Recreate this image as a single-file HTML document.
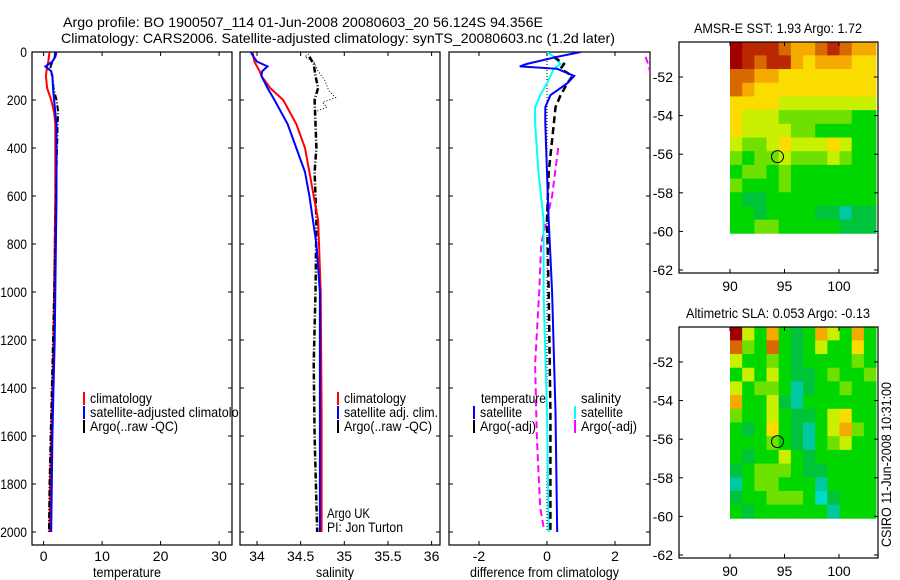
<!DOCTYPE html>
<html><head><meta charset="utf-8">
<style>
html,body{margin:0;padding:0;background:#fff;}
svg{display:block;font-family:"Liberation Sans",sans-serif;}
text{font-size:14px;fill:#000;}
</style></head>
<body>
<svg id="chart" width="900" height="580" viewBox="0 0 900 580">
<text x="63" y="27" textLength="480" lengthAdjust="spacingAndGlyphs">Argo profile: BO 1900507_114 01-Jun-2008 20080603_20 56.124S 94.356E</text>
<text x="61" y="43" textLength="554" lengthAdjust="spacingAndGlyphs">Climatology: CARS2006. Satellite-adjusted climatology: synTS_20080603.nc (1.2d later)</text>
<g id="g"></g>
</svg>
<script>
// ---------- data ----------
const depthTicks=[0,200,400,600,800,1000,1200,1400,1600,1800,2000];
const tempTicks=[0,10,20,30];
const salTicks=[34,34.5,35,35.5,36];
const diffTicks=[-2,0,2];
const depthsT=[0,20,40,60,80,100,150,200,250,300,400,500,600,800,1000,1200,1400,1600,1800,2000];
const tempClim=[1.0,0.9,0.8,0.6,0.5,0.4,0.6,1.3,1.8,2.0,2.0,2.0,2.0,1.9,1.8,1.7,1.5,1.3,1.1,1.0];
const tempSat=[2.2,2.0,1.5,0.3,1.3,1.5,1.6,1.8,2.0,2.2,2.2,2.2,2.2,2.1,2.0,1.9,1.7,1.5,1.4,1.3];
const tempArgo=[2.0,1.9,1.5,1.2,1.2,1.5,1.7,2.2,2.5,2.4,2.3,2.2,2.1,2.0,1.8,1.6,1.4,1.2,1.0,0.9];
const depthsS=[0,20,40,60,80,100,150,200,300,400,500,600,700,800,1000,1500,2000];
const salClim=[33.95,33.96,33.97,34.0,34.03,34.05,34.15,34.3,34.45,34.55,34.6,34.65,34.7,34.71,34.73,34.74,34.74];
const salSat=[33.93,33.96,34.0,34.12,34.06,34.05,34.12,34.2,34.35,34.45,34.55,34.6,34.64,34.68,34.72,34.72,34.72];
const depthsA=[20,50,100,150,200,300,400,500,700,1000,1300,1600,2000];
const salArgo=[34.6,34.65,34.67,34.7,34.66,34.67,34.68,34.66,34.68,34.67,34.65,34.66,34.69];
const depthsRaw=[0,20,40,80,120,160,190,210,230,250];
const salRaw=[34.62,34.55,34.65,34.7,34.78,34.82,34.9,34.75,34.8,34.66];
const depthsD=[0,20,50,60,70,100,130,180,230,300,500,700,1000,1500,2000];
const diffTsat=[1.0,0.3,-0.6,-0.8,0.3,0.8,0.6,0.1,-0.05,-0.05,0.0,0.05,0.15,0.25,0.3];
const diffTargo=[null,0.2,0.5,0.45,0.4,0.75,0.6,0.4,0.25,0.2,0.05,0.0,0.05,0.1,0.1];
const diffSsat=[0.0,0.2,0.4,0.3,0.2,0.1,0.0,-0.2,-0.35,-0.35,-0.25,-0.1,-0.1,0.0,0.05];
const depthsM=[20,60,100,250,400,600,800,1000,1300,1600,1900,1980];
const diffSargo=[2.9,3.0,3.05,null,0.33,0.15,-0.17,-0.23,-0.35,-0.3,-0.2,-0.1];
const sstGrid=[
[10,9,9,9,8,7,7,8,9,8,7,7],[10,9,8,9,9,7,6,7,7,7,6,6],[8,8,7,7,6,6,6,6,6,6,6,6],
[8,7,6,6,6,6,6,6,6,6,6,6],[6,6,6,6,5,5,5,5,5,5,5,5],[6,5,5,5,4,4,4,4,4,4,3,3],
[6,5,5,5,5,4,4,3,3,3,3,3],[5,4,4,5,6,5,5,5,6,5,3,3],[4,3,4,4,5,4,4,4,5,4,3,3],
[3,4,4,3,4,3,3,3,3,3,3,3],[4,3,3,3,4,3,3,3,3,3,3,3],[3,2,2,3,3,3,3,3,3,3,3,3],
[3,3,2,3,3,3,3,2,2,1,2,2],[3,3,4,4,3,3,3,3,3,2,2,2]];
const slaGrid=[
[10,5,3,7,3,2,3,7,5,3,7,3],[8,4,3,8,3,2,3,5,3,3,6,3],[5,3,3,4,3,2,3,3,3,3,4,3],
[3,5,3,5,3,2,2,3,4,3,3,4],[5,3,4,4,3,1,2,3,3,4,3,3],[7,3,3,5,2,1,3,3,3,3,3,3],
[4,3,3,5,3,2,2,3,5,6,3,3],[3,2,3,6,3,2,1,3,5,7,4,3],[3,3,3,4,3,2,1,3,4,5,3,3],
[3,2,3,3,5,3,2,3,3,3,3,3],[2,3,4,4,4,3,2,2,3,3,3,3],[1,3,4,4,3,3,3,1,3,3,3,3],
[2,3,3,4,4,4,3,0,2,3,3,3],[3,2,3,3,3,3,3,3,1,3,3,3]];
const latTicks=[-52,-54,-56,-58,-60,-62];
const lonTicks=[90,95,100];
const argoPos=[94.356,-56.124];

// ---------- helpers ----------
const NS='http://www.w3.org/2000/svg';
const G=document.getElementById('g');
function mk(tag,attrs,parent){const e=document.createElementNS(NS,tag);for(const k in attrs)e.setAttribute(k,attrs[k]);(parent||G).appendChild(e);return e;}
const PT=52,PB=545;
const yD=d=>52+d*0.24;
const panels=[
 {x0:32,x1:232,xs:v=>43.6+(v-0)*5.85,ticks:tempTicks,lab:'temperature',tl:68,name:'temperature-panel'},
 {x0:240,x1:440,xs:v=>257+(v-34)*87.3,ticks:salTicks,lab:'salinity',tl:38,name:'salinity-panel'},
 {x0:449,x1:650,xs:v=>547+v*34,ticks:diffTicks,lab:'difference from climatology',tl:149,name:'difference-panel'}];
panels.forEach((p,i)=>{
 const g=mk('g',{});
 
 
 const cp=mk('clipPath',{id:'cp'+i},g);mk('rect',{x:p.x0,y:PT,width:p.x1-p.x0,height:PB-PT},cp);
 mk('rect',{x:p.x0,y:PT,width:p.x1-p.x0,height:PB-PT,fill:'none',stroke:'#000','stroke-width':1.2},g);
 p.ticks.forEach(t=>{const x=p.xs(t);
  mk('line',{x1:x,x2:x,y1:PB,y2:PB-4,stroke:'#000'},g);mk('line',{x1:x,x2:x,y1:PT,y2:PT+4,stroke:'#000'},g);
  const tx=mk('text',{x:x,y:PB+16,'text-anchor':'middle','font-size':13},g);tx.textContent=t;
  
  });
 depthTicks.forEach(d=>{const y=yD(d);
  mk('line',{x1:p.x0,x2:p.x0+4,y1:y,y2:y,stroke:'#000'},g);mk('line',{x1:p.x1,x2:p.x1-4,y1:y,y2:y,stroke:'#000'},g);
  if(i===0){const s=String(d);const tx=mk('text',{x:27,y:y+5,'text-anchor':'end','font-size':13,textLength:s.length*6.7,lengthAdjust:'spacingAndGlyphs'},g);tx.textContent=s;
   
   }});
 const xl=mk('text',{x:(p.x0+p.x1)/2-5-p.tl/2,y:577,textLength:p.tl,lengthAdjust:'spacingAndGlyphs'},g);xl.textContent=p.lab;
 
 
 p.g=mk('g',{'clip-path':'url(#cp'+i+')'},g);
});
function line(p,depths,vals,color,w,dash,name){
 let d='',pen=false;
 depths.forEach((dep,k)=>{const v=vals[k];if(v===null||v===undefined){pen=false;return;}
  d+=(pen?'L':'M')+p.xs(v).toFixed(1)+' '+yD(dep).toFixed(1);pen=true;});
 const e=mk('path',{d:d,fill:'none',stroke:color,'stroke-width':w,'stroke-dasharray':dash||'none'},p.g);
 
 
}
const [P1,P2,P3]=panels;
line(P1,depthsT,tempClim,'#f00',2,null,'temp-climatology-line');
line(P1,depthsT,tempArgo,'#000',2,'6 2 1 2','temp-argo-line');
line(P1,depthsT,tempSat,'#00f',2,null,'temp-satellite-line');
line(P2,depthsRaw,salRaw,'#000',1,'1 2','salinity-argo-raw-line');
line(P2,depthsA,salArgo,'#000',2.5,'6 2 1 2','salinity-argo-line');
line(P2,depthsS,salClim,'#f00',2,null,'salinity-climatology-line');
line(P2,depthsS,salSat,'#00f',2,null,'salinity-satellite-line');
line(P3,[0,2000],[0,0],'#000',1,'1 2','zero-reference-line');
line(P3,depthsM,diffSargo,'#f0f',2,'7 4','salinity-argo-diff-line');
line(P3,depthsD,diffSsat,'#0ff',2,null,'salinity-satellite-diff-line');
line(P3,depthsD,diffTargo,'#000',2.5,'7 4','temperature-argo-diff-line');
line(P3,depthsD,diffTsat,'#00f',2,null,'temperature-satellite-diff-line');

const lcp=mk('clipPath',{id:'lcp'});mk('rect',{x:0,y:0,width:239,height:580},lcp);
const LG=mk('g',{'clip-path':'url(#lcp)'});
function legend(x,y,color,label,name,tl,par){
 if(color)mk('rect',{x:x,y:y-11,width:2,height:13,fill:color},par);
 const t=mk('text',{x:x+7,y:y,textLength:tl,lengthAdjust:'spacingAndGlyphs'},par);t.textContent=label;
 
 
}
legend(83,403,'#f00','climatology','legend-climatology',62,LG);
legend(83,417,'#00f','satellite-adjusted climatology','legend-satellite-adjusted',162,LG);
legend(83,431,'#000','Argo(..raw -QC)','legend-argo',88);
legend(337,403,'#f00','climatology','legend-climatology-sal',62);
legend(337,417,'#00f','satellite adj. clim.','legend-satellite-sal',94);
legend(337,431,'#000','Argo(..raw -QC)','legend-argo-sal',88);
legend(474,403,null,'temperature','legend-temperature-header',65);
legend(473,417,'#00f','satellite','legend-temp-satellite',42);
legend(473,431,'#000','Argo(-adj)','legend-temp-argo',56);
legend(574,403,null,'salinity','legend-salinity-header',40);
legend(574,417,'#0ff','satellite','legend-sal-satellite',42);
legend(574,431,'#f0f','Argo(-adj)','legend-sal-argo',56);
let t=mk('text',{x:327,y:518,textLength:43,lengthAdjust:'spacingAndGlyphs'});t.textContent='Argo UK';


t=mk('text',{x:327,y:532,textLength:76,lengthAdjust:'spacingAndGlyphs'});t.textContent='PI: Jon Turton';



// ---------- maps ----------
const cmap=['rgb(0,220,200)','rgb(0,200,160)','rgb(0,195,60)','rgb(0,215,0)','rgb(110,225,0)','rgb(200,240,0)','rgb(250,220,0)','rgb(245,170,0)','rgb(215,105,0)','rgb(185,40,0)','rgb(160,0,0)'];
const LON0=90,LON1=103.4,LAT0=-50.17,LAT1=-60.1;
function drawMap(oy,grid,title,tl,name,mname){
 const g=mk('g',{});
 
 
 const xs=lon=>730+(lon-90)*10.9, ys=lat=>oy+77+(-52-lat)*19.3;
 const nr=grid.length,nc=grid[0].length;
 const dl=(LON1-LON0)/nc, dt=(LAT0-LAT1)/nr;
 grid.forEach((row,r)=>row.forEach((v,c)=>{
  const x0=xs(LON0+c*dl),x1=xs(LON0+(c+1)*dl),y0=ys(LAT0-r*dt),y1=ys(LAT0-(r+1)*dt);
  const e=mk('rect',{x:x0.toFixed(2),y:y0.toFixed(2),width:(x1-x0+0.4).toFixed(2),height:(y1-y0+0.4).toFixed(2),fill:cmap[v]},g);
  
  
 }));
 mk('rect',{x:679,y:oy+42,width:199,height:231,fill:'none',stroke:'#000','stroke-width':1.2},g);
 latTicks.forEach(l=>{const y=ys(l);mk('line',{x1:679,x2:683,y1:y,y2:y,stroke:'#000'},g);mk('line',{x1:878,x2:874,y1:y,y2:y,stroke:'#000'},g);
  const tx=mk('text',{x:673,y:y+5,'text-anchor':'end','font-size':13},g);tx.textContent=l;
  
  });
 lonTicks.forEach(l=>{const x=xs(l);mk('line',{x1:x,x2:x,y1:oy+273,y2:oy+269,stroke:'#000'},g);mk('line',{x1:x,x2:x,y1:oy+42,y2:oy+46,stroke:'#000'},g);
  const tx=mk('text',{x:x,y:oy+291,'text-anchor':'middle','font-size':13},g);tx.textContent=l;
  
  });
 const c=mk('circle',{cx:xs(argoPos[0]),cy:ys(argoPos[1]),r:6,fill:'none',stroke:'#000'},g);
 
 
 const tt=mk('text',{x:778-tl/2,y:oy+33,textLength:tl,lengthAdjust:'spacingAndGlyphs'},g);tt.textContent=title;
 
 
}
drawMap(0,sstGrid,'AMSR-E SST: 1.93 Argo: 1.72',168,'sst-map','sst-argo-marker');
drawMap(285,slaGrid,'Altimetric SLA: 0.053 Argo: -0.13',184,'sla-map','sla-argo-marker');
t=mk('text',{x:0,y:0,transform:'translate(891,547) rotate(-90)',textLength:165,lengthAdjust:'spacingAndGlyphs'});t.textContent='CSIRO 11-Jun-2008 10:31:00';


</script>
</body></html>
